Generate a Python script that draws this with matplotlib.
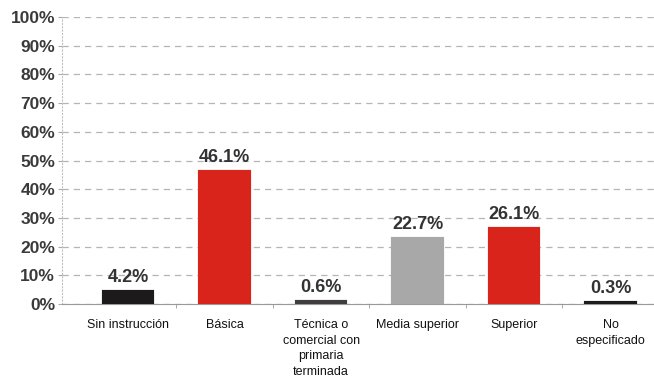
import matplotlib.pyplot as plt
import numpy as np

plt.rcParams['font.family'] = ['Liberation Sans', 'DejaVu Sans']

# data
categories = ['Sin instrucción', 'Básica', 'Técnica o\ncomercial con\nprimaria\nterminada',
              'Media superior', 'Superior', 'No\nespecificado']
values = [4.2, 46.1, 0.6, 22.7, 26.1, 0.3]
labels = ['4.2%', '46.1%', '0.6%', '22.7%', '26.1%', '0.3%']
colors = ['#1c1a1a', '#d9241c', '#3f3d3d', '#a8a8a8', '#d9241c', '#1c1a1a']

fig = plt.figure(figsize=(6.54, 3.79), dpi=100)
ax = fig.add_axes([0.095, 0.198, 0.905, 0.757])

x = np.arange(len(categories))
bars = ax.bar(x, values, width=0.5, color=colors, edgecolor=colors,
              linewidth=3, zorder=3)

# value labels above the bars
for xi, v, lab in zip(x, values, labels):
    ax.text(xi, v + 2.0, lab, ha='center', va='bottom', fontsize=13,
            fontweight='bold', color='#333333', zorder=4)

ax.set_ylim(0, 100)
ax.set_xlim(-0.684, 5.45)
ax.set_yticks(np.arange(0, 101, 10))
ax.set_yticklabels([f'{t}%' for t in range(0, 101, 10)], fontsize=12.5,
                   fontweight='bold', color='#3a3a3a')
ax.yaxis.grid(True, linestyle=(0, (5, 4)), color='#b5b5b5', linewidth=0.9, zorder=0)

ax.set_xticks(x)
ax.set_xticklabels(categories, fontsize=9, color='#111111', linespacing=1.4)
ax.set_xticks(x[:-1] + 0.5, minor=True)
ax.tick_params(axis='x', which='major', length=0, pad=11)
ax.tick_params(axis='x', which='minor', length=3, color='#999999')
ax.tick_params(axis='y', length=3, color='#aaaaaa', pad=2)

for side in ['top', 'right']:
    ax.spines[side].set_visible(False)
ax.spines['bottom'].set_color('#999999')
ax.spines['left'].set_color('#c0c0c0')
ax.spines['left'].set_linestyle((0, (1, 2)))

fig.savefig('out.png', dpi=100)
